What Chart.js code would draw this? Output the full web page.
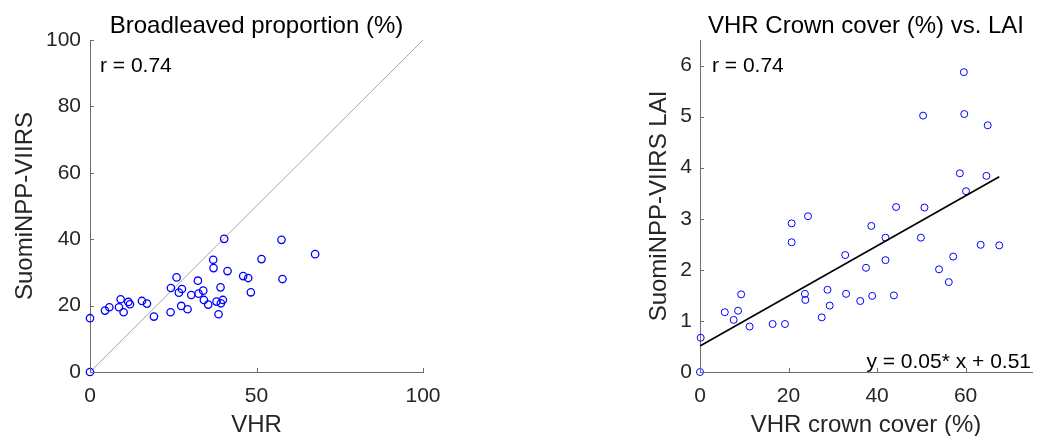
<!DOCTYPE html>
<html><head><meta charset="utf-8">
<script src="https://cdn.jsdelivr.net/npm/chart.js@4.4.1/dist/chart.umd.min.js"></script>
<style>
html,body{margin:0;padding:0;background:#fff;}
#wrap{position:relative;width:1037px;height:436px;overflow:hidden;background:#fff;}
canvas{position:absolute;top:0;}
#c1{left:0;} #c2{left:520px;}
</style></head><body>
<div id="wrap"><canvas id="c1" width="520" height="436"></canvas><canvas id="c2" width="517" height="436"></canvas></div>
<script>
// ---- Left panel: Broadleaved proportion (%) ----
const broadVHR   = [0, 0, 4.5, 5.8, 8.7, 9.2, 10.1, 11.5, 12.0, 15.6, 17.1, 19.2, 24.2, 24.3, 26.0, 26.7, 27.6, 27.4, 29.3, 30.4, 32.4, 32.6, 34.0, 34.2, 35.5, 37.0, 37.1, 38.0, 38.6, 39.2, 39.3, 39.9, 40.3, 41.3, 46.0, 47.5, 48.3, 51.5, 57.5, 57.8, 67.6];
const broadVIIRS = [16.2, 0, 18.5, 19.5, 19.5, 21.9, 18.0, 21.1, 20.4, 21.4, 20.6, 16.7, 18.0, 25.3, 28.5, 23.9, 25.0, 19.9, 18.9, 23.2, 27.5, 23.6, 24.5, 21.7, 20.3, 33.8, 31.3, 21.2, 17.4, 25.5, 20.7, 21.7, 40.1, 30.4, 28.9, 28.3, 24.0, 34.0, 39.8, 28.0, 35.5];
const leftXTicks = [0, 50, 100];
const leftYTicks = [0, 20, 40, 60, 80, 100];
const leftR = 'r = 0.74';

// ---- Right panel: VHR Crown cover (%) vs. LAI ----
const crownVHR = [0.15, 0, 5.6, 7.6, 8.6, 9.3, 11.2, 16.4, 19.2, 20.7, 20.7, 24.4, 23.7, 23.8, 27.5, 28.8, 29.3, 32.8, 33.0, 36.2, 37.5, 38.7, 38.9, 41.9, 41.9, 43.8, 44.3, 50.7, 49.9, 54.0, 56.2, 57.2, 63.4, 67.6, 59.6, 50.4, 59.7, 65.0, 58.7, 64.7, 60.1];
const laiVIIRS = [0.67, 0, 1.17, 1.02, 1.20, 1.52, 0.89, 0.94, 0.94, 2.91, 2.54, 3.05, 1.53, 1.41, 1.07, 1.61, 1.30, 2.29, 1.53, 1.39, 2.04, 2.86, 1.49, 2.63, 2.19, 1.50, 3.23, 3.22, 2.63, 2.01, 1.76, 2.26, 2.49, 2.48, 5.87, 5.02, 5.05, 4.83, 3.89, 3.84, 3.54];
const rightXTicks = [0, 20, 40, 60];
const rightYTicks = [0, 1, 2, 3, 4, 5, 6];
const fitSlope = 0.049, fitIntercept = 0.51;
const rightR = 'r = 0.74';
const fitLabel = 'y = 0.05* x + 0.51';

const FONT = '"Liberation Sans", Arial, Helvetica, sans-serif';
const AXIS = '#6e6e6e';
const TXT = '#262626';

function pts(xs, ys){ return xs.map((x,i)=>({x:x, y:ys[i]})); }

const innerTicks = {
  id:'innerTicks',
  afterDraw(chart){
    const ctx = chart.ctx, a = chart.chartArea;
    ctx.save();
    ctx.strokeStyle = AXIS; ctx.lineWidth = 1;
    const xs = chart.scales.x, ys = chart.scales.y;
    xs.ticks.forEach(t=>{ const p = Math.round(xs.getPixelForValue(t.value))+0.5;
      ctx.beginPath(); ctx.moveTo(p, a.bottom); ctx.lineTo(p, a.bottom-4); ctx.stroke(); });
    ys.ticks.forEach(t=>{ const p = Math.round(ys.getPixelForValue(t.value))+0.5;
      ctx.beginPath(); ctx.moveTo(a.left, p); ctx.lineTo(a.left+4, p); ctx.stroke(); });
    ctx.restore();
  }
};

function texts(title, rtxt, roff, extra){
  return {
    id:'texts',
    afterDraw(chart){
      const ctx = chart.ctx, a = chart.chartArea;
      ctx.save();
      ctx.fillStyle = '#000';
      ctx.textBaseline = 'alphabetic';
      ctx.font = '24px ' + FONT;
      ctx.textAlign = 'center';
      ctx.fillText(title, (a.left+a.right)/2, 33);
      ctx.font = '21px ' + FONT;
      ctx.textAlign = 'left';
      ctx.fillText(rtxt, a.left + roff, 72);
      if (extra){ ctx.textAlign = 'right'; ctx.fillText(extra, a.right - 1, 368); }
      ctx.restore();
    }
  };
}

function makeChart(id, cfg){
  const tickFont = {family: FONT, size: 21};
  return new Chart(document.getElementById(id), {
    type: 'scatter',
    data: { datasets: cfg.datasets },
    options: {
      responsive: false, animation: false, devicePixelRatio: 1,
      layout: { padding: cfg.padding },
      plugins: { legend:{display:false}, tooltip:{enabled:false} },
      scales: {
        x: {
          type:'linear', min: cfg.xmin, max: cfg.xmax,
          afterBuildTicks: s => { s.ticks = cfg.xticks.map(v=>({value:v})); },
          afterFit: s => { s.height = 64; },
          grid: { display: true, drawOnChartArea: false, drawTicks: false },
          border: { display: true, color: AXIS, width: 1 },
          ticks: { font: tickFont, color: TXT, padding: cfg.xpad, maxRotation: 0, autoSkip: false },
          title: { display: true, text: cfg.xtitle, color: TXT, font: {family: FONT, size: 24, lineHeight: 0.875}, padding: {top:0, bottom:0} }
        },
        y: {
          type:'linear', min: cfg.ymin, max: cfg.ymax,
          afterBuildTicks: s => { s.ticks = cfg.yticks.map(v=>({value:v})); },
          afterFit: s => { s.width = cfg.yw; },
          grid: { display: true, drawOnChartArea: false, drawTicks: false },
          border: { display: true, color: AXIS, width: 1 },
          ticks: { font: tickFont, color: TXT, padding: cfg.ypad, autoSkip: false },
          title: { display: true, text: cfg.ytitle, color: TXT, font: {family: FONT, size: 24, lineHeight: 1.2}, padding: {top: cfg.ytpad, bottom: 0} }
        }
      }
    },
    plugins: [innerTicks, texts(cfg.title, cfg.rtxt, cfg.roff, cfg.extra)]
  });
}

makeChart('c1', {
  padding: {left:0, top:40, right:97, bottom:0},
  xmin:0, xmax:100, ymin:0, ymax:100,
  xticks: leftXTicks, yticks: leftYTicks,
  xtitle: 'VHR', ytitle: 'SuomiNPP-VIIRS',
  yw: 90, ypad: 9, xpad: 12, ytpad: 11,
  title: 'Broadleaved proportion (%)',
  rtxt: leftR, roff: 10, extra: null,
  datasets: [
    { data: pts(broadVHR, broadVIIRS), pointStyle:'circle', pointRadius:3.7, pointBorderWidth:1.3,
      borderColor:'#0000ff', backgroundColor:'rgba(0,0,0,0)', pointBackgroundColor:'rgba(0,0,0,0)', clip:false, order:1 },
    { data: pts([leftXTicks[0], leftXTicks[leftXTicks.length-1]], [leftYTicks[0], leftYTicks[leftYTicks.length-1]]),
      showLine:true, pointRadius:0, borderColor:'#a6a6a6', borderWidth:1, clip:false, order:2 }
  ]
});

const fitX = [0, Math.max(...crownVHR)];
makeChart('c2', {
  padding: {left:0, top:40, right:4, bottom:0},
  xmin:0, xmax:75, ymin:0, ymax:6.5,
  xticks: rightXTicks, yticks: rightYTicks,
  xtitle: 'VHR crown cover (%)', ytitle: 'SuomiNPP-VIIRS LAI',
  yw: 180, ypad: 8, xpad: 12, ytpad: 124.6,
  title: 'VHR Crown cover (%) vs. LAI',
  rtxt: rightR, roff: 12, extra: fitLabel,
  datasets: [
    { data: pts(fitX, fitX.map(x=>fitSlope*x+fitIntercept)), showLine:true, pointRadius:0,
      borderColor:'#000', borderWidth:1.6, clip:false, order:0 },
    { data: pts(crownVHR, laiVIIRS), pointStyle:'circle', pointRadius:3.5, pointBorderWidth:1,
      borderColor:'#0000ff', backgroundColor:'rgba(0,0,0,0)', pointBackgroundColor:'rgba(0,0,0,0)', clip:false, order:1 }
  ]
});
</script>
</body></html>
